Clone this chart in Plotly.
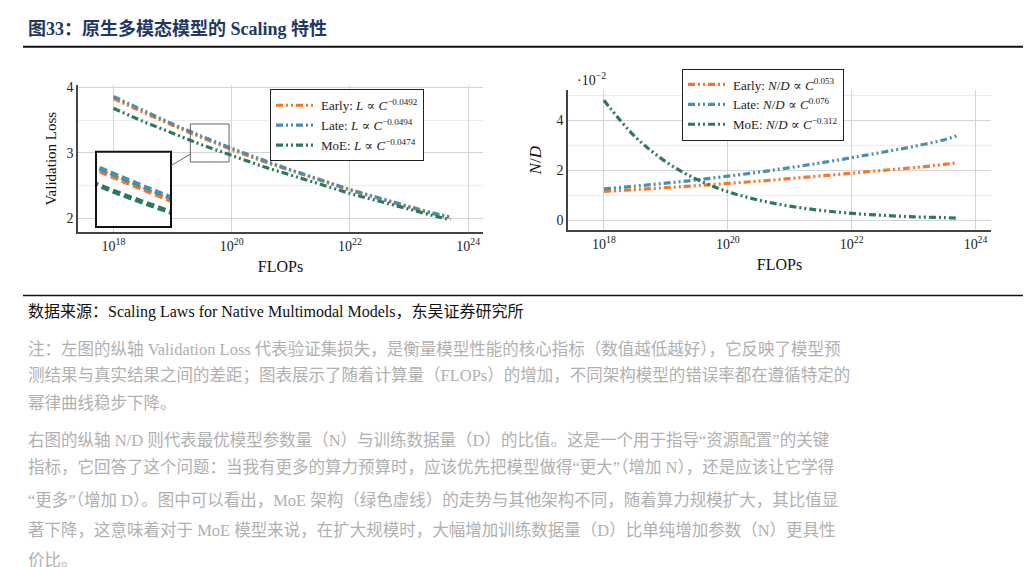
import plotly.graph_objects as go

flops_exp = [18, 18.5, 19, 19.5, 20, 20.5, 21, 21.5, 22, 22.5, 23, 23.5, 23.7]
loss_early = [3.83, 3.62, 3.42, 3.23, 3.05, 2.88, 2.73, 2.58, 2.43, 2.30, 2.17, 2.05, 2.01]
loss_late = [3.86, 3.65, 3.44, 3.25, 3.07, 2.90, 2.74, 2.59, 2.44, 2.31, 2.18, 2.06, 2.02]
loss_moe = [3.68, 3.48, 3.30, 3.12, 2.96, 2.80, 2.66, 2.52, 2.38, 2.26, 2.14, 2.02, 1.98]
nd_early = [1.15, 1.22, 1.30, 1.38, 1.47, 1.56, 1.66, 1.77, 1.88, 1.99, 2.10, 2.23, 2.30]
nd_late = [1.25, 1.36, 1.48, 1.61, 1.76, 1.92, 2.10, 2.29, 2.50, 2.72, 2.95, 3.22, 3.38]
nd_moe = [4.80, 3.35, 2.34, 1.63, 1.14, 0.80, 0.56, 0.39, 0.27, 0.19, 0.13, 0.10, 0.08]
names = ["Early", "Late", "MoE"]
loss_exps = ["−0.0492", "−0.0494", "−0.0474"]
nd_exps = ["0.053", "0.076", "−0.312"]
colors = ["#f4772a", "#4b8fae", "#2b7a5f"]
x_ticks = [18, 20, 22, 24]

flops = [10.0 ** e for e in flops_exp]
DASH = "7px,3px,2px,3px,2px,3px"
SERIF = "Liberation Serif, DejaVu Serif, serif"
CJK = "Liberation Serif, Noto Sans CJK SC"
W, H = 1031, 567

def px(x0, x1):
    return [x0 / W, x1 / W]

def py(y0, y1):
    return [1 - y1 / H, 1 - y0 / H]

fig = go.Figure()
loss = [loss_early, loss_late, loss_moe]
nd = [nd_early, nd_late, nd_moe]
for i in range(3):
    fig.add_trace(go.Scatter(x=flops, y=loss[i], mode="lines", line=dict(color=colors[i], width=3.2, dash=DASH, shape="spline"),
                             name=f"{names[i]}: <i>L</i> ∝ <i>C</i><sup>{loss_exps[i]}</sup>", xaxis="x", yaxis="y", legend="legend"))
for i in range(3):
    fig.add_trace(go.Scatter(x=flops, y=loss[i], mode="lines", line=dict(color=colors[i], width=5, dash="8px,4px", shape="spline"),
                             showlegend=False, xaxis="x3", yaxis="y3"))
for i in range(3):
    fig.add_trace(go.Scatter(x=flops, y=nd[i], mode="lines", line=dict(color=colors[i], width=3.2, dash=DASH, shape="spline"),
                             name=f"{names[i]}: <i>N</i>/<i>D</i> ∝ <i>C</i><sup>{nd_exps[i]}</sup>", xaxis="x2", yaxis="y2", legend="legend2"))

tickfont = dict(family=SERIF, size=14, color="#222")
xcommon = dict(type="log", tickvals=[10.0 ** t for t in x_ticks], ticktext=[f"10<sup>{t}</sup>" for t in x_ticks],
               showline=True, linecolor="#444", linewidth=1.5, gridcolor="#d4d4d4", tickfont=tickfont,
               title=dict(text="FLOPs", font=dict(family=SERIF, size=16, color="#111"), standoff=8), zeroline=False, ticks="")
fig.update_layout(
    width=W, height=H, margin=dict(l=0, r=0, t=0, b=0), plot_bgcolor="white", paper_bgcolor="white",
    xaxis=dict(domain=px(70, 475), range=[17.4, 24.25], **xcommon),
    yaxis=dict(domain=py(73, 221), range=[1.79, 4.03], tickvals=[2, 3, 4], showline=True, linecolor="#444", linewidth=1.5,
               gridcolor="#d4d4d4", tickfont=tickfont, zeroline=False, minor=dict(dtick=0.5, showgrid=True, gridcolor="#ececec"),
               title=dict(text="Validation Loss", font=dict(family=SERIF, size=15, color="#111"), standoff=6)),
    xaxis2=dict(domain=px(560, 983), range=[17.42, 24.25], anchor="y2", **xcommon),
    yaxis2=dict(domain=py(78, 219), range=[-0.4, 5.2], tickvals=[0, 2, 4], anchor="x2", showline=True, linecolor="#444", linewidth=1.5,
                gridcolor="#d4d4d4", tickfont=tickfont, zeroline=False, minor=dict(dtick=1, showgrid=True, gridcolor="#ececec"),
                title=dict(text="<i>N</i>/<i>D</i>", font=dict(family=SERIF, size=17, color="#111"), standoff=10)),
    xaxis3=dict(domain=px(88, 163), type="log", range=[19.3, 19.955], anchor="y3", showticklabels=False, showgrid=False,
                zeroline=False, showline=False),
    yaxis3=dict(domain=py(140, 216), range=[2.86, 3.44], anchor="x3", showticklabels=False, showgrid=False,
                zeroline=False, showline=False),
    legend=dict(x=262 / W, y=1 - 77 / H, xanchor="left", yanchor="top", bgcolor="white", bordercolor="#222", borderwidth=1,
                font=dict(family=SERIF, size=13, color="#222"), itemwidth=40, tracegroupgap=4),
    legend2=dict(x=674 / W, y=1 - 56 / H, xanchor="left", yanchor="top", bgcolor="white", bordercolor="#222", borderwidth=1,
                 font=dict(family=SERIF, size=13, color="#222"), itemwidth=40),
    showlegend=True,
)

shapes = [
    dict(type="line", xref="paper", yref="paper", x0=15 / W, x1=1, y0=1 - 34 / H, y1=1 - 34 / H, line=dict(color="#111", width=2)),
    dict(type="line", xref="paper", yref="paper", x0=15 / W, x1=1, y0=1 - 285 / H, y1=1 - 285 / H, line=dict(color="#111", width=1.5)),
    dict(type="rect", xref="x3 domain", yref="y3 domain", x0=0, x1=1, y0=0, y1=1, line=dict(color="#111", width=2)),
    dict(type="rect", xref="x", yref="y", x0=10.0 ** 19.3, x1=10.0 ** 19.955, y0=2.86, y1=3.44, line=dict(color="#666", width=1)),
    dict(type="line", xref="paper", yref="paper", x0=163 / W, y0=1 - 154 / H, x1=183 / W, y1=1 - 142 / H, line=dict(color="#666", width=1)),
]
fig.update_layout(shapes=shapes)

notes = [
    "注：左图的纵轴 Validation Loss 代表验证集损失，是衡量模型性能的核心指标（数值越低越好），它反映了模型预",
    "测结果与真实结果之间的差距；图表展示了随着计算量（FLOPs）的增加，不同架构模型的错误率都在遵循特定的",
    "幂律曲线稳步下降。",
    "右图的纵轴 N/D 则代表最优模型参数量（N）与训练数据量（D）的比值。这是一个用于指导“资源配置”的关键",
    "指标，它回答了这个问题：当我有更多的算力预算时，应该优先把模型做得“更大”（增加 N），还是应该让它学得",
    "“更多”（增加 D）。图中可以看出，MoE 架构（绿色虚线）的走势与其他架构不同，随着算力规模扩大，其比值显",
    "著下降，这意味着对于 MoE 模型来说，在扩大规模时，大幅增加训练数据量（D）比单纯增加参数（N）更具性",
    "价比。",
]
note_y = [339, 366, 394, 431, 459, 492, 522, 552]
anns = [
    dict(text="<b>图33：原生多模态模型的 Scaling 特性</b>", x=18 / W, y=1 - 16 / H, xref="paper", yref="paper",
         xanchor="left", yanchor="middle", showarrow=False, font=dict(family=CJK, size=18, color="#1f3864")),
    dict(text="·10<sup>−2</sup>", x=567 / W, y=1 - 67 / H, xref="paper", yref="paper", xanchor="left", yanchor="middle",
         showarrow=False, font=dict(family=SERIF, size=14, color="#222")),
    dict(text="数据来源：Scaling Laws for Native Multimodal Models，东吴证券研究所", x=18 / W, y=1 - 302 / H, xref="paper",
         yref="paper", xanchor="left", yanchor="middle", showarrow=False, font=dict(family=CJK, size=16, color="#111")),
]
for t, yy in zip(notes, note_y):
    anns.append(dict(text=t, x=18 / W, y=1 - yy / H, xref="paper", yref="paper", xanchor="left", yanchor="middle",
                     showarrow=False, font=dict(family=CJK, size=16.5, color="#b0b0b0")))
fig.update_layout(annotations=anns)

fig.write_html("out.html")
